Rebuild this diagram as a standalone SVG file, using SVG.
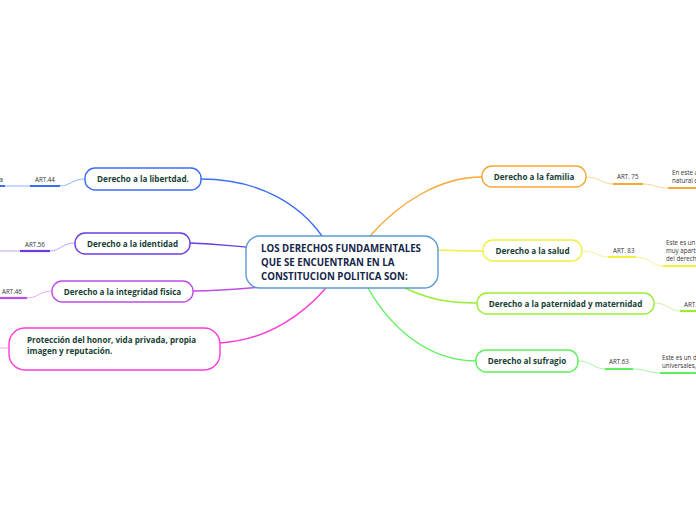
<svg xmlns="http://www.w3.org/2000/svg" width="696" height="520" viewBox="0 0 696 520">
<style>
.n{fill:#fff;stroke-width:1.4}
.t{font-family:"Open Sans","Noto Sans",sans-serif;font-weight:bold;font-size:8.1px;fill:#173f35}
.c{font-family:"Open Sans","Noto Sans",sans-serif;font-weight:bold;font-size:9.7px;fill:#14264a}
.s{font-family:"Open Sans","Noto Sans",sans-serif;font-size:6.2px;fill:#333}
.l{fill:none;stroke-width:1.4}
.u{fill:none;stroke-width:2.2}
.f{fill:none;stroke-width:0.8}
</style>
<rect width="696" height="520" fill="#fff"/>
<g id="connectors">
<path class="l" stroke="#3b6ef5" d="M201,179 C260,179 300,205 322,236"/>
<path class="l" stroke="#6b3ce6" d="M190,243 C220,244 230,246 247,247"/>
<path class="l" stroke="#c04ce8" d="M193,291 C220,291 240,289 262,287"/>
<path class="l" stroke="#ff3ad8" d="M220,343 C270,340 305,312 326,288"/>
<path class="l" stroke="#f5a833" d="M370,236 C400,202 440,177 482,177"/>
<path class="l" stroke="#f0f040" d="M438,250 C460,251 470,251 483,251"/>
<path class="l" stroke="#99ee33" d="M405,288 C430,300 450,303 477,303"/>
<path class="l" stroke="#5cf05c" d="M368,288 C392,330 430,361 476,361"/>
<path class="f" stroke="#7f9cf5" d="M85,179 C72,179 70,186 60,186 L0,186"/>
<path class="u" stroke="#3b6ef5" d="M30,186 H60 M0,186 H5"/>
<path class="f" stroke="#a98af0" d="M75,243 C62,243 60,251 50,251 L0,251"/>
<path class="u" stroke="#6b3ce6" d="M20,251 H50"/>
<path class="f" stroke="#d89af0" d="M52,291 C40,291 38,298 27,298 L0,298"/>
<path class="u" stroke="#c04ce8" d="M0,298 H27"/>
<path class="f" stroke="#ff8ae8" d="M0,348 H9"/>
<path class="f" stroke="#f8c880" d="M586,177 C600,177 602,184 613,184 L643,184 C655,184 656,188 668,188 L696,188"/>
<path class="u" stroke="#f5a833" d="M613,184 H643 M668,188 H696"/>
<path class="f" stroke="#f0f080" d="M582,251 C596,251 598,257 608,257 L636,257 C650,257 652,266 663,266 L696,266"/>
<path class="u" stroke="#f0f040" d="M608,257 H636 M663,266 H696"/>
<path class="f" stroke="#c4f080" d="M654,303 C668,303 670,311 680,311 L696,311"/>
<path class="u" stroke="#99ee33" d="M680,311 H696"/>
<path class="f" stroke="#90f090" d="M578,361 C592,361 594,369 605,369 L633,369 C646,369 648,373 660,373 L696,373"/>
<path class="u" stroke="#5cf05c" d="M605,369 H633 M660,373 H696"/>
</g>
<g id="sublabels">
<text class="s" x="35" y="182">ART.44</text>
<text class="s" x="3" y="182" text-anchor="end">a</text>
<text class="s" x="25" y="247">ART.56</text>
<text class="s" x="2" y="294">ART.46</text>
<text class="s" x="617" y="179">ART. 75</text>
<text class="s" x="672" y="175">En este a</text>
<text class="s" x="672" y="183">natural d</text>
<text class="s" x="613" y="253">ART. 83</text>
<text class="s" x="666" y="245">Este es un</text>
<text class="s" x="666" y="253">muy apart</text>
<text class="s" x="666" y="261">del derech</text>
<text class="s" x="684" y="307">ART.</text>
<text class="s" x="609" y="364">ART.63</text>
<text class="s" x="662" y="360">Este es un d</text>
<text class="s" x="662" y="368">universales,</text>
</g>
<g id="center">
<rect class="n" x="246" y="236" width="192" height="52" rx="14" stroke="#5b9bd5"/>
<text class="c" x="261" y="252">LOS DERECHOS FUNDAMENTALES</text>
<text class="c" x="261" y="266">QUE SE ENCUENTRAN EN LA</text>
<text class="c" x="261" y="280">CONSTITUCION POLITICA SON:</text>
</g>
<g id="libertad">
<rect class="n" x="85" y="168" width="116" height="22" rx="10" stroke="#3b6ef5"/>
<text class="t" x="143" y="182" text-anchor="middle">Derecho a la libertdad.</text>
</g>
<g id="identidad">
<rect class="n" x="75" y="233" width="115" height="21" rx="10" stroke="#6b3ce6"/>
<text class="t" x="132.5" y="246.5" text-anchor="middle">Derecho a la identidad</text>
</g>
<g id="integridad">
<rect class="n" x="52" y="281" width="141" height="21" rx="10" stroke="#c04ce8"/>
<text class="t" x="122.5" y="294.5" text-anchor="middle">Derecho a la integridad fisica</text>
</g>
<g id="honor">
<rect class="n" x="9" y="328" width="211" height="42" rx="16" stroke="#ff3ad8"/>
<text class="t" x="27" y="343">Protección del honor, vida privada, propia</text>
<text class="t" x="27" y="354">imagen y reputación.</text>
</g>
<g id="familia">
<rect class="n" x="482" y="166" width="104" height="21" rx="10" stroke="#f5a833"/>
<text class="t" x="534" y="180" text-anchor="middle">Derecho a la familia</text>
</g>
<g id="salud">
<rect class="n" x="483" y="240" width="99" height="21" rx="10" stroke="#f0f040"/>
<text class="t" x="532.5" y="254" text-anchor="middle">Derecho a la salud</text>
</g>
<g id="paternidad">
<rect class="n" x="477" y="293" width="177" height="21" rx="10" stroke="#99ee33"/>
<text class="t" x="565.5" y="307" text-anchor="middle">Derecho a la paternidad y maternidad</text>
</g>
<g id="sufragio">
<rect class="n" x="476" y="350" width="102" height="22" rx="10" stroke="#5cf05c"/>
<text class="t" x="527" y="364" text-anchor="middle">Derecho al sufragio</text>
</g>
</svg>
